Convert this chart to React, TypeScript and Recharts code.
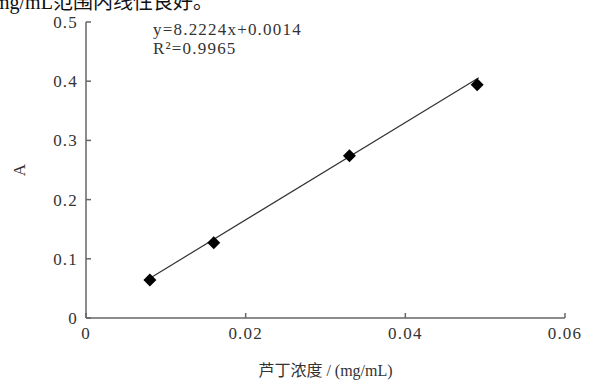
import { ScatterChart, Scatter, XAxis, YAxis, Label } from "recharts";

// 芦丁标准曲线
const concentrations = [0.008, 0.016, 0.033, 0.049];
const absorbances = [0.064, 0.127, 0.274, 0.394];
// fitted line, end points
const fitX = [0.0078, 0.0492];
const fitY = [0.0655, 0.406];

const xTicks = [0, 0.02, 0.04, 0.06];
const yTicks = [0, 0.1, 0.2, 0.3, 0.4, 0.5];

const equation = "y=8.2224x+0.0014";
const rSquared = "R²=0.9965";
const xTitle = "芦丁浓度 / (mg/mL)";
const yTitle = "A";

const points = concentrations.map((x, i) => ({ x, y: absorbances[i] }));
const fitLine = fitX.map((x, i) => ({ x, y: fitY[i] }));

const serif = '"Liberation Serif", "Noto Sans CJK SC", serif';
const axisColor = "#666";
const tickStyle = { fontSize: 17, fontFamily: serif, fill: "#333", letterSpacing: 1.2 };

const Diamond = (props: any) => {
  const { cx, cy } = props;
  if (cx == null || cy == null) return <g />;
  const r = 6.5;
  return (
    <polygon
      points={`${cx},${cy - r} ${cx + r},${cy} ${cx},${cy + r} ${cx - r},${cy}`}
      fill="#000"
    />
  );
};

const App = () => {
  return (
    <div
      style={{
        position: "absolute",
        left: 0,
        top: 0,
        width: 600,
        height: 385,
        overflow: "hidden",
        background: "#fff",
        fontFamily: serif,
      }}
    >
      {/* page text cut by the crop above the figure */}
      <div
        style={{
          position: "absolute",
          left: -6,
          top: -5,
          fontSize: 20,
          lineHeight: "15px",
          color: "#111",
          whiteSpace: "nowrap",
        }}
      >
        mg/mL范围内线性良好。
      </div>

      <div
        style={{
          position: "absolute",
          left: 153,
          top: 20,
          fontSize: 17,
          lineHeight: "19px",
          color: "#333",
          letterSpacing: 1.2,
        }}
      >
        <div>{equation}</div>
        <div>{rSquared}</div>
      </div>

      <ScatterChart
        width={600}
        height={385}
        margin={{ top: 22, right: 35, bottom: 0, left: 0 }}
        style={{ position: "absolute", left: 0, top: 0, fontFamily: serif }}
      >
        <XAxis
          dataKey="x"
          type="number"
          domain={[0, 0.06]}
          ticks={xTicks}
          tickFormatter={(v: number) => (v === 0 ? "0" : String(v))}
          height={67}
          stroke={axisColor}
          strokeWidth={1.5}
          tickSize={-5}
          tickMargin={14}
          tick={tickStyle}
        >
          <Label
            content={({ viewBox }: any) => (
              <text
                x={viewBox.x + viewBox.width / 2}
                y={viewBox.y + 52}
                textAnchor="middle"
                dominantBaseline="central"
                fontSize={16}
                fontFamily={serif}
                fill="#333"
              >
                {xTitle}
              </text>
            )}
          />
        </XAxis>
        <YAxis
          dataKey="y"
          type="number"
          domain={[0, 0.5]}
          ticks={yTicks}
          width={86}
          stroke={axisColor}
          strokeWidth={1.5}
          tickSize={-5}
          tickMargin={13}
          tick={tickStyle}
        >
          <Label
            content={({ viewBox }: any) => (
              <text
                x={19}
                y={viewBox.y + viewBox.height / 2}
                textAnchor="middle"
                dominantBaseline="central"
                fontSize={17}
                fontFamily={serif}
                fill="#333"
                transform={`rotate(-90 19 ${viewBox.y + viewBox.height / 2})`}
              >
                {yTitle}
              </text>
            )}
          />
        </YAxis>
        <Scatter
          data={fitLine}
          line={{ stroke: "#333", strokeWidth: 1.2 }}
          shape={() => <g />}
          isAnimationActive={false}
        />
        <Scatter data={points} shape={<Diamond />} isAnimationActive={false} />
      </ScatterChart>
    </div>
  );
};

export default App;
